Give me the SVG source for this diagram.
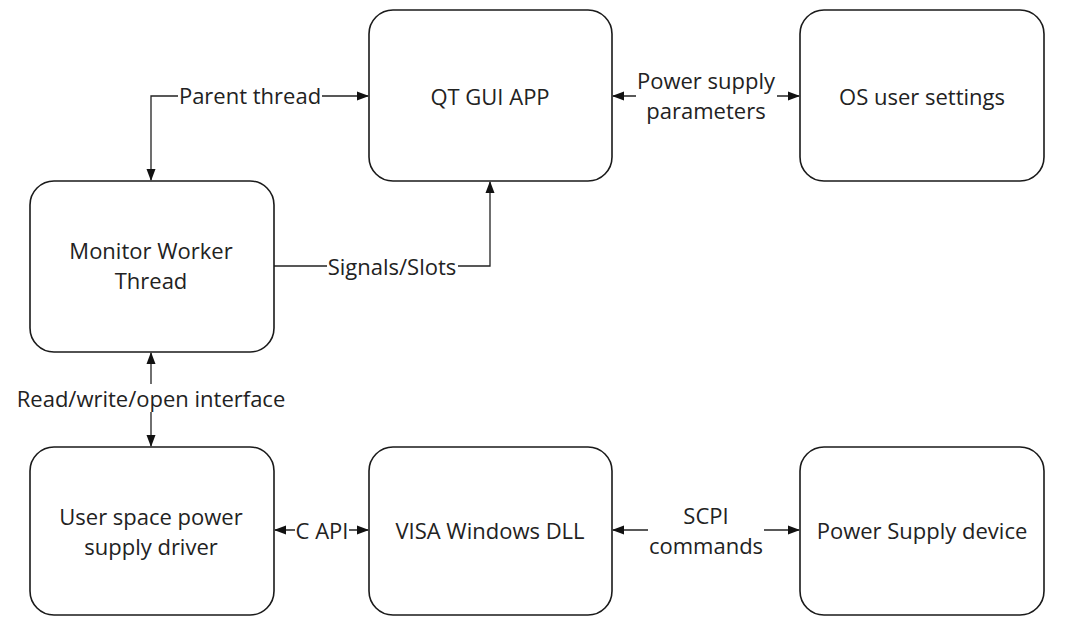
<svg xmlns="http://www.w3.org/2000/svg" width="1069" height="642" viewBox="0 0 1069 642">
<style>
.box{fill:#fff;stroke:#1a1a1a;stroke-width:1.6}
.t{font-family:"Open Sans","Liberation Sans",sans-serif;font-size:22px;fill:#222;text-anchor:middle;dominant-baseline:central}
.c{fill:none;stroke:#222;stroke-width:1.3}
.lb{fill:#fff;stroke:none}
</style>
<defs>
<marker id="a" markerWidth="12" markerHeight="10" refX="11" refY="5" orient="auto-start-reverse" markerUnits="userSpaceOnUse">
<path d="M0,0.5 L12,5 L0,9.5 z" fill="#111"/>
</marker>
</defs>
<rect width="1069" height="642" fill="#fff"/>
<g id="connectors">
<path class="c" d="M151,180 V96 H368" marker-start="url(#a)" marker-end="url(#a)"/>
<path class="c" d="M613,96 H799" marker-start="url(#a)" marker-end="url(#a)"/>
<path class="c" d="M274,266 H490 V182" marker-end="url(#a)"/>
<path class="c" d="M151,353 V446" marker-start="url(#a)" marker-end="url(#a)"/>
<path class="c" d="M275,530 H368" marker-start="url(#a)" marker-end="url(#a)"/>
<path class="c" d="M613,530 H799" marker-start="url(#a)" marker-end="url(#a)"/>
<rect class="lb" x="178" y="83" width="144" height="26"/>
<text class="t" x="250" y="95">Parent thread</text>
<rect class="lb" x="636" y="64" width="141" height="62"/>
<text class="t" x="706" y="80">Power supply</text>
<text class="t" x="706" y="110">parameters</text>
<rect class="lb" x="327" y="253" width="131" height="26"/>
<text class="t" x="392" y="266">Signals/Slots</text>
<rect class="lb" x="10" y="384" width="284" height="28"/>
<text class="t" x="151" y="398">Read/write/open interface</text>
<rect class="lb" x="295" y="517" width="54" height="26"/>
<text class="t" x="322" y="530">C API</text>
<rect class="lb" x="648" y="498" width="116" height="62"/>
<text class="t" x="706" y="515">SCPI</text>
<text class="t" x="706" y="545">commands</text>
</g>
<g id="qt"><rect class="box" x="369" y="10" width="243" height="171" rx="24"/><text class="t" x="490" y="96">QT GUI APP</text></g>
<g id="os"><rect class="box" x="800" y="10" width="244" height="171" rx="24"/><text class="t" x="922" y="96">OS user settings</text></g>
<g id="monitor"><rect class="box" x="30" y="181" width="244" height="171" rx="24"/><text class="t" x="151" y="250">Monitor Worker</text><text class="t" x="151" y="280">Thread</text></g>
<g id="driver"><rect class="box" x="30" y="447" width="244" height="168" rx="24"/><text class="t" x="151" y="516">User space power</text><text class="t" x="151" y="546">supply driver</text></g>
<g id="visa"><rect class="box" x="369" y="447" width="243" height="168" rx="24"/><text class="t" x="490" y="530">VISA Windows DLL</text></g>
<g id="psu"><rect class="box" x="800" y="447" width="244" height="168" rx="24"/><text class="t" x="922" y="530">Power Supply device</text></g>
</svg>
